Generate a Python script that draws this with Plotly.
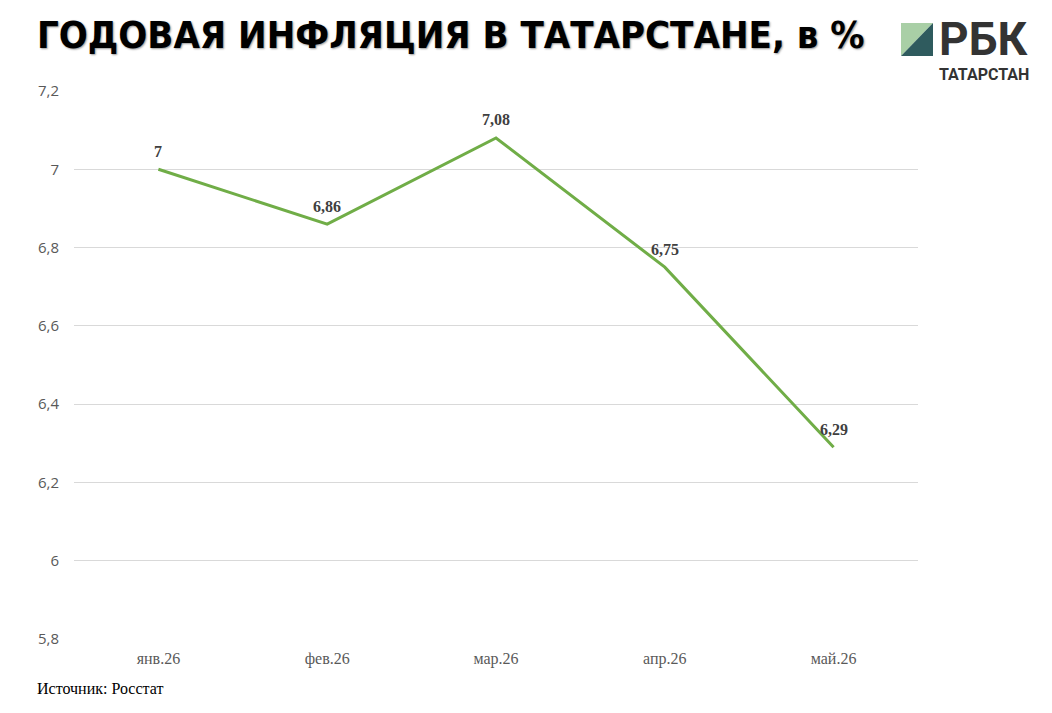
import plotly.graph_objects as go

months = ["янв.26", "фев.26", "мар.26", "апр.26", "май.26"]
inflation = [7.00, 6.86, 7.08, 6.75, 6.29]
y_ticks = [5.8, 6.0, 6.2, 6.4, 6.6, 6.8, 7.0, 7.2]
y_tick_labels = ["5,8", "6", "6,2", "6,4", "6,6", "6,8", "7", "7,2"]
labels = [("%g" % v).replace(".", ",") for v in inflation]

fig = go.Figure()
fig.add_trace(go.Scatter(
    x=months, y=inflation, mode="lines",
    line=dict(color="#70AD47", width=3), hoverinfo="skip", showlegend=False))

for m, v, t in zip(months, inflation, labels):
    fig.add_annotation(x=m, y=v, text="<b>%s</b>" % t, showarrow=False, yshift=18,
                       font=dict(family="Liberation Serif", size=16, color="#404040"))

fig.update_layout(
    width=1052, height=713,
    margin=dict(l=74, r=134, t=91, b=74),
    paper_bgcolor="white", plot_bgcolor="white",
    xaxis=dict(showgrid=False, showline=False, ticks="", zeroline=False,
               range=[-0.5, 4.5], ticklabelstandoff=8,
               tickfont=dict(family="Liberation Serif", size=16, color="#595959")),
    yaxis=dict(range=[5.8, 7.2], tickvals=y_ticks, ticktext=y_tick_labels,
               showgrid=True, gridcolor="#D9D9D9", gridwidth=1, zeroline=False,
               showline=False, ticks="", ticklabelstandoff=14,
               tickfont=dict(family="Open Sans", size=15, color="#595959")),
)

# Title
fig.add_annotation(xref="paper", yref="paper", x=0, y=1.0, xshift=-39, yshift=56, xanchor="left", yanchor="middle",
                   text="<b>ГОДОВАЯ ИНФЛЯЦИЯ В ТАТАРСТАНЕ, в %</b>", showarrow=False,
                   font=dict(family="Liberation Sans Narrow, DejaVu Sans Condensed", size=38, color="black",
                             shadow="1px 1px 2px #999"))
# Source
fig.add_annotation(xref="paper", yref="paper", x=0, y=0, xshift=-39, yshift=-49, xanchor="left", yanchor="middle",
                   text="Источник: Росстат", showarrow=False,
                   font=dict(family="Liberation Serif", size=16, color="black"))

# Logo
fig.add_shape(type="path", xref="paper", yref="paper", xsizemode="pixel", ysizemode="pixel",
              xanchor=1, yanchor=1, path="M -17,68 L 15,68 L -17,35 Z", fillcolor="#A9CFA6", line_width=0)
fig.add_shape(type="path", xref="paper", yref="paper", xsizemode="pixel", ysizemode="pixel",
              xanchor=1, yanchor=1, path="M 15,68 L 15,35 L -17,35 Z", fillcolor="#2F5B5E", line_width=0)
fig.add_annotation(xref="paper", yref="paper", x=1, y=1, xshift=19, yshift=52, xanchor="left", yanchor="middle",
                   text="<b>РБК</b>", showarrow=False,
                   font=dict(family="Liberation Sans Narrow, Roboto", size=46, color="#333333"))
fig.add_annotation(xref="paper", yref="paper", x=1, y=1, xshift=19, yshift=17, xanchor="left", yanchor="middle",
                   text="<b>ТАТАРСТАН</b>", showarrow=False,
                   font=dict(family="Roboto, Liberation Sans", size=16, color="#333333"))

fig.write_html("out.html")
